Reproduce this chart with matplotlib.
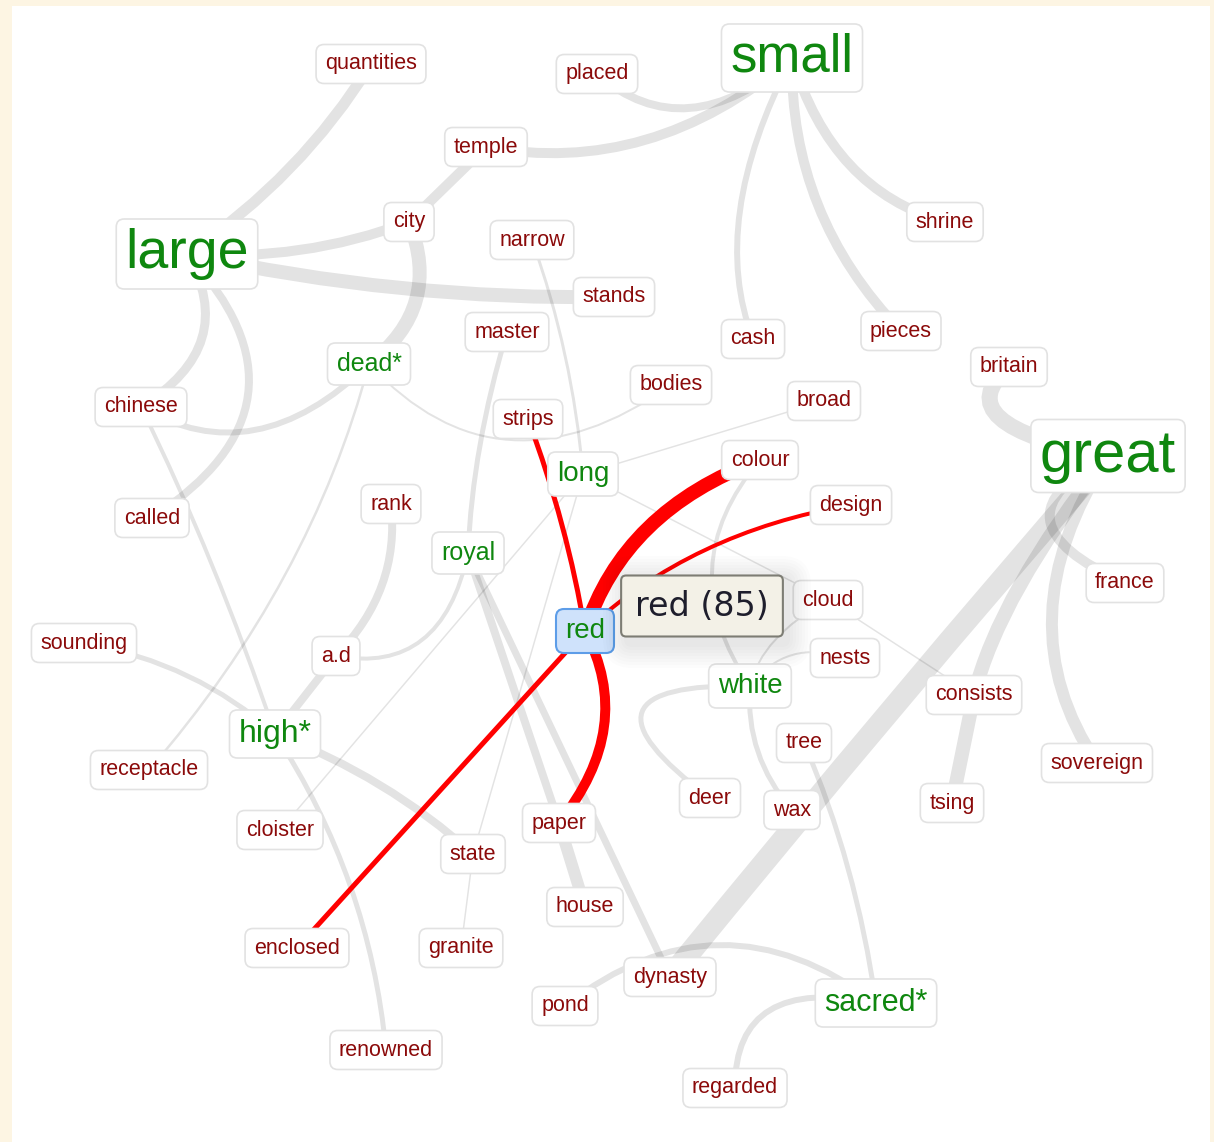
import matplotlib
matplotlib.use("Agg")
import matplotlib.pyplot as plt
from matplotlib.path import Path
from matplotlib.patches import PathPatch, Rectangle, FancyBboxPatch

# Word co-occurrence graph, "red" selected

# --- data ---
hubs = ["small", "large", "great"]
mids = ["dead*", "long", "royal", "red", "white", "high*", "sacred*"]
leaves = ["quantities", "placed", "temple", "city", "narrow", "stands", "shrine",
          "master", "cash", "pieces", "britain", "chinese", "bodies", "strips",
          "broad", "colour", "design", "called", "rank", "cloud", "france",
          "sounding", "a.d", "nests", "consists", "receptacle", "tree",
          "sovereign", "deer", "wax", "tsing", "cloister", "paper", "state",
          "house", "enclosed", "granite", "dynasty", "pond", "renowned", "regarded"]
selected = "red"
selected_count = 85

edge_src = ["large", "large", "large", "large", "large", "city", "temple", "placed",
            "small", "small", "small", "city", "dead*", "dead*", "dead*", "chinese",
            "sounding", "rank", "a.d", "a.d", "high*", "high*", "cloister", "master",
            "narrow", "long", "long", "cloud", "royal", "royal", "paper", "state",
            "state", "pond", "great", "great", "great", "great", "britain",
            "consists", "tree", "sacred*", "white", "white", "colour", "cloud",
            "nests", "red", "red", "red", "red", "red"]
edge_dst = ["quantities", "city", "stands", "chinese", "called", "temple", "small",
            "small", "cash", "pieces", "shrine", "dead*", "chinese", "bodies",
            "receptacle", "high*", "high*", "a.d", "high*", "royal", "state",
            "renowned", "long", "royal", "long", "broad", "cloud", "consists",
            "paper", "dynasty", "house", "granite", "long", "sacred*", "dynasty",
            "consists", "france", "sovereign", "great", "tsing", "sacred*",
            "regarded", "deer", "wax", "white", "white", "white", "colour",
            "design", "strips", "paper", "enclosed"]
edge_w = [11, 10, 14, 9, 8, 10, 10, 8, 6, 10, 10, 14, 6, 2, 2.5, 4, 5, 8, 8, 4, 8,
          5, 1.5, 5, 3, 1.5, 1.5, 1.5, 8, 7, 12, 1.5, 1.5, 6, 22, 14, 10, 12, 16,
          14, 5, 6, 5, 5, 4, 2, 2, 14, 4, 5, 10, 5]

# --- layout (pixel space of the original view) ---
pos = {
    "small": (792, 58), "large": (187, 254), "great": (1108, 456),
    "quantities": (371, 64), "placed": (597, 74), "temple": (486, 147),
    "city": (409, 222), "narrow": (532, 240), "stands": (614, 297),
    "shrine": (945, 222), "master": (507, 332), "cash": (753, 339),
    "pieces": (901, 331), "britain": (1009, 367), "dead*": (369, 364),
    "chinese": (141, 407), "bodies": (671, 385), "strips": (528, 419),
    "broad": (824, 401), "long": (583, 474), "colour": (760, 460),
    "design": (851, 505), "called": (152, 518), "rank": (391, 504),
    "royal": (468, 553), "red": (585, 631), "cloud": (828, 600),
    "france": (1125, 583), "sounding": (84, 643), "a.d": (336, 656),
    "nests": (845, 658), "white": (750, 686), "consists": (974, 695),
    "high*": (275, 734), "receptacle": (149, 770), "tree": (804, 743),
    "sovereign": (1097, 763), "deer": (710, 798), "wax": (792, 810),
    "tsing": (952, 803), "cloister": (280, 830), "paper": (559, 823),
    "state": (473, 854), "house": (585, 907), "enclosed": (297, 948),
    "granite": (461, 948), "dynasty": (670, 977), "pond": (565, 1006),
    "sacred*": (876, 1003), "renowned": (386, 1050), "regarded": (735, 1088),
}
# point each curved edge passes through halfway
via = {
    ("large", "quantities"): (290, 168), ("large", "city"): (300, 250),
    ("large", "stands"): (400, 288), ("large", "chinese"): (202, 338),
    ("large", "called"): (248, 395), ("temple", "small"): (645, 140),
    ("placed", "small"): (690, 108), ("small", "cash"): (740, 210),
    ("small", "pieces"): (818, 205), ("small", "shrine"): (850, 165),
    ("city", "dead*"): (416, 300), ("dead*", "chinese"): (255, 430),
    ("dead*", "bodies"): (510, 440), ("dead*", "receptacle"): (285, 575),
    ("chinese", "high*"): (212, 565), ("sounding", "high*"): (188, 676),
    ("rank", "a.d"): (382, 585), ("a.d", "royal"): (422, 640),
    ("high*", "state"): (380, 785), ("high*", "renowned"): (350, 885),
    ("master", "royal"): (480, 445), ("narrow", "long"): (565, 355),
    ("pond", "sacred*"): (720, 945), ("great", "dynasty"): (895, 705),
    ("great", "consists"): (1020, 585), ("great", "france"): (1050, 520),
    ("great", "sovereign"): (1052, 615), ("britain", "great"): (1000, 418),
    ("tree", "sacred*"): (848, 868), ("sacred*", "regarded"): (770, 1010),
    ("white", "deer"): (642, 712), ("white", "wax"): (758, 752),
    ("colour", "white"): (712, 570), ("cloud", "white"): (775, 640),
    ("nests", "white"): (792, 655), ("red", "colour"): (648, 528),
    ("red", "design"): (705, 550), ("red", "strips"): (562, 525),
    ("red", "paper"): (604, 727),
}
label_pt = {"small": 38, "large": 40, "great": 43, "dead*": 18, "long": 20,
            "royal": 18, "red": 20, "white": 20, "high*": 23, "sacred*": 22}
leaf_pt = 15.5

W, H = 1214, 1142
fig = plt.figure(figsize=(W / 100, H / 100), dpi=100, facecolor="#fdf5e3")
ax = fig.add_axes([0, 0, 1, 1])
ax.set_xlim(0, W)
ax.set_ylim(H, 0)
ax.axis("off")
ax.add_patch(Rectangle((12, 6), 1198, 1140, facecolor="white", edgecolor="none", zorder=0))

PX = 0.72  # points per pixel


def draw_edge(a, b, w, color, alpha, z):
    p0, p2 = pos[a], pos[b]
    m = via.get((a, b))
    if m is None:
        path = Path([p0, p2], [Path.MOVETO, Path.LINETO])
    else:
        c = (2 * m[0] - (p0[0] + p2[0]) / 2, 2 * m[1] - (p0[1] + p2[1]) / 2)
        path = Path([p0, c, p2], [Path.MOVETO, Path.CURVE3, Path.CURVE3])
    ax.add_patch(PathPatch(path, fill=False, lw=w * PX, edgecolor=color,
                           alpha=alpha, capstyle="butt", zorder=z))


for a, b, w in zip(edge_src, edge_dst, edge_w):
    if selected in (a, b):
        draw_edge(a, b, w, "#ff0000", 1.0, 3)
    else:
        draw_edge(a, b, w, "black", 0.11, 2)

# node labels
for word in hubs + mids + leaves:
    x, y = pos[word]
    fs = label_pt.get(word, leaf_pt)
    fpx = fs / PX
    color = "#0f870f" if word in hubs + mids else "#8b0a0a"
    face, edge, lw = "white", "#e2e2e2", 1.2
    if word == selected:
        face, edge, lw = "#cfe2fb", "#5d9de8", 1.5
    ax.text(x, y, word, ha="center", va="center", fontsize=fs, color=color,
            family="Liberation Sans", zorder=5,
            bbox=dict(boxstyle=f"round,pad={9 / fpx:.3f},rounding_size={8 / fpx:.3f}",
                      facecolor=face, edgecolor=edge, linewidth=lw))

# tooltip with a soft shadow
tx, ty = pos[selected][0] + 117, pos[selected][1] - 25
for i in range(8):
    g = 2 + i * 3
    ax.add_patch(FancyBboxPatch((tx - 81 - g + 5, ty - 33 - g + 6), 162 + 2 * g, 66 + 2 * g,
                                boxstyle=f"round,pad=0,rounding_size={6 + g}",
                                facecolor="black", edgecolor="none", alpha=0.012, zorder=6))
ax.text(tx, ty, f"{selected} ({selected_count})", ha="center", va="center",
        fontsize=24, color="#1e1e2c", family="DejaVu Sans", zorder=7,
        bbox=dict(boxstyle="round,pad=0.42,rounding_size=0.15",
                  facecolor="#f3f1e7", edgecolor="#7d7d74", linewidth=1.5))

fig.savefig("out.png", dpi=100, facecolor=fig.get_facecolor())
